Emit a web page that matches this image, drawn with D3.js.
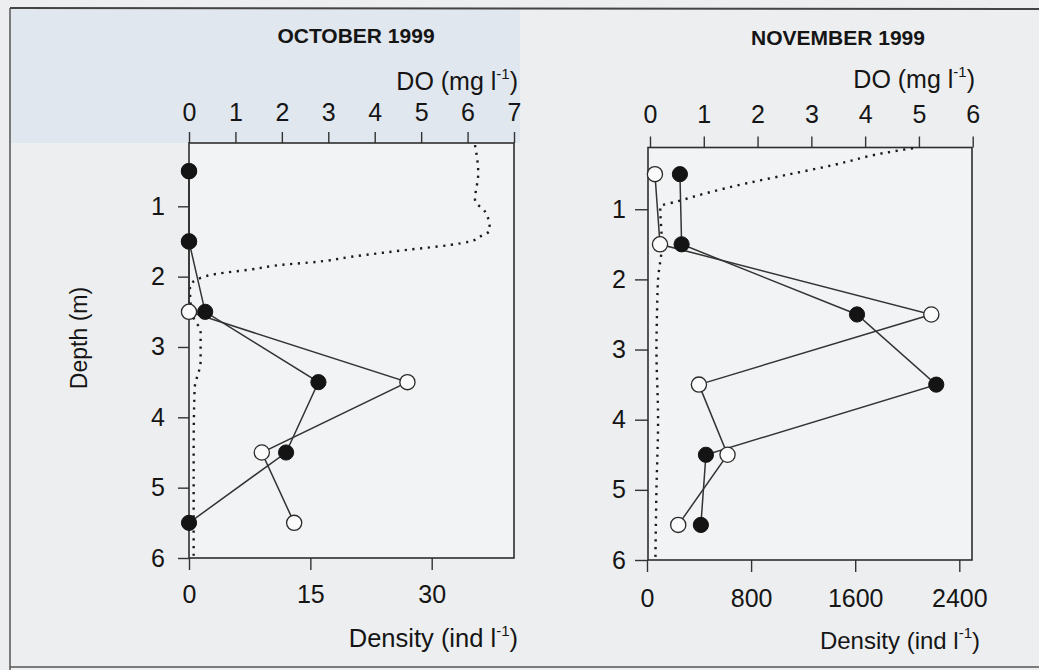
<!DOCTYPE html>
<html><head><meta charset="utf-8">
<script src="https://cdn.jsdelivr.net/npm/d3@7/dist/d3.min.js"></script>
<style>
html,body{margin:0;padding:0;background:#eeeff1;}
svg{display:block;font-family:"Liberation Sans",Arial,Helvetica,sans-serif;}
</style></head>
<body>
<svg id="c" width="1039" height="670"></svg>
<script>
// ---- data ----
const depths = [0.5, 1.5, 2.5, 3.5, 4.5, 5.5];
// October 1999 rotifer density (ind/l)
const octFilled = [0, 0, 2, 16, 12, 0];
const octOpen   = [0, 0, 0, 27, 9, 13];
// October DO profile
const octDoDepth = [0.13,0.53,0.91,1.08,1.19,1.34,1.43,1.5,1.55,1.62,1.66,1.72,1.79,1.83,1.9,1.96,2.02,2.14,2.5,2.8,3.2,3.6,4.5,5.5,6.0];
const octDo      = [6.16,6.23,6.16,6.38,6.45,6.48,6.27,6.05,5.62,4.69,4.18,3.47,2.75,2.03,1.31,0.6,0.24,0.02,0.05,0.25,0.25,0.12,0.1,0.1,0.1];
// November 1999 rotifer density (ind/l)
const novFilled = [253, 266, 1614, 2223, 453, 414];
const novOpen   = [61, 100, 2185, 399, 619, 240];
// November DO profile
const novDoDepth = [0.13,0.2,0.37,0.51,0.63,0.77,0.89,0.96,1.5,2.0,2.5,3.0,4.0,5.0,6.0];
const novDo      = [4.89,4.34,3.41,2.54,1.80,1.05,0.50,0.19,0.22,0.15,0.13,0.12,0.15,0.12,0.1];
// axis ticks
const octDoTicks = [0,1,2,3,4,5,6,7];
const novDoTicks = [0,1,2,3,4,5,6];
const depthTicks = [1,2,3,4,5,6];
const octDensTicks = [0,15,30];
const novDensTicks = [0,800,1600,2400];
const titles = ["OCTOBER 1999", "NOVEMBER 1999"];

const svg = d3.select("#c");
// page background
svg.append("rect").attr("x",0).attr("y",0).attr("width",1039).attr("height",670).attr("fill","#edeef0");
svg.append("rect").attr("x",10).attr("y",9).attr("width",510).attr("height",134).attr("fill","#e1e7ee");
svg.append("line").attr("x1",10).attr("x2",1039).attr("y1",8).attr("y2",9).attr("stroke","#444").attr("stroke-width",2);
svg.append("line").attr("x1",10).attr("x2",10).attr("y1",8).attr("y2",670).attr("stroke","#555").attr("stroke-width",1.5);
svg.append("line").attr("x1",10).attr("x2",1039).attr("y1",667).attr("y2",667).attr("stroke","#555").attr("stroke-width",1.5);

const panels = [
  {title:titles[0], tx:356, ty:43,
   box:{l:189,t:143,r:514,b:558}, depthDom:[0.1,6],
   doScale:d3.scaleLinear().domain([0,7]).range([189,514]), doTicks:octDoTicks,
   densScale:d3.scaleLinear().domain([0,30]).range([189,431.7]), densTicks:octDensTicks,
   filled:octFilled, open:octOpen, doD:octDoDepth, doV:octDo,
   doLab:{x:518,y:90}, densLab:{x:518,y:647,fs:25.5}, depthLabel:true,
   topPad:11, leftTick:11, leftPad:13, botTick:12, botPad:15},
  {title:titles[1], tx:838, ty:45,
   box:{l:648,t:147.5,r:972,b:560}, depthDom:[0.12,6],
   doScale:d3.scaleLinear().domain([0,6]).range([650,972.7]), doTicks:novDoTicks,
   densScale:d3.scaleLinear().domain([0,2400]).range([647,959.3]), densTicks:novDensTicks,
   filled:novFilled, open:novOpen, doD:novDoDepth, doV:novDo,
   doLab:{x:975,y:88}, densLab:{x:980,y:649,fs:24}, depthLabel:false,
   topPad:14, leftTick:13, leftPad:9, botTick:12, botPad:17}
];

panels.forEach(p => {
  const g = svg.append("g");
  const b = p.box;
  const y = d3.scaleLinear().domain(p.depthDom).range([b.t, b.b]);
  g.append("rect").attr("x",b.l).attr("y",b.t).attr("width",b.r-b.l).attr("height",b.b-b.t)
    .attr("fill","#f2f3f4").attr("stroke","none");

  // title
  g.append("text").attr("x",p.tx).attr("y",p.ty).attr("text-anchor","middle")
    .attr("font-size",21).attr("font-weight","bold").attr("fill","#151515").text(p.title);

  const styleAxis = sel => {
    sel.attr("font-size",null).attr("font-family",null);
    sel.select(".domain").remove();
    sel.selectAll(".tick line").attr("stroke","#333").attr("stroke-width",1.4);
    sel.selectAll(".tick text").attr("fill","#151515").style("font-size","25px")
       .style("font-family","'Liberation Sans',Arial,sans-serif");
  };
  // top DO axis
  g.append("g").attr("transform",`translate(0,${b.t})`)
    .call(d3.axisTop(p.doScale).tickValues(p.doTicks).tickFormat(d3.format("d")).tickSize(11).tickPadding(p.topPad))
    .call(styleAxis);
  // left depth axis
  g.append("g").attr("transform",`translate(${b.l},0)`)
    .call(d3.axisLeft(y).tickValues(depthTicks).tickFormat(d3.format("d")).tickSize(p.leftTick).tickPadding(p.leftPad))
    .call(styleAxis);
  // bottom density axis
  g.append("g").attr("transform",`translate(0,${b.b})`)
    .call(d3.axisBottom(p.densScale).tickValues(p.densTicks).tickFormat(d3.format("d")).tickSize(p.botTick).tickPadding(p.botPad))
    .call(styleAxis);

  // box
  g.append("rect").attr("x",b.l).attr("y",b.t).attr("width",b.r-b.l).attr("height",b.b-b.t)
    .attr("fill","none").attr("stroke","#2e2e2e").attr("stroke-width",1.6);

  // axis labels
  const doT = g.append("text").attr("x",p.doLab.x).attr("y",p.doLab.y).attr("text-anchor","end")
    .style("font-size","25px").attr("fill","#151515");
  doT.append("tspan").text("DO (mg l");
  doT.append("tspan").style("font-size","15px").attr("dy",-11).text("-1");
  doT.append("tspan").attr("dy",11).text(")");
  const dT = g.append("text").attr("x",p.densLab.x).attr("y",p.densLab.y).attr("text-anchor","end")
    .style("font-size",p.densLab.fs+"px").attr("fill","#151515");
  dT.append("tspan").text("Density (ind l");
  dT.append("tspan").style("font-size","15px").attr("dy",-11).text("-1");
  dT.append("tspan").attr("dy",11).text(")");
  if (p.depthLabel) {
    g.append("text").attr("transform","translate(87,338) rotate(-90)").attr("text-anchor","middle")
      .style("font-size","23px").attr("fill","#151515").text("Depth (m)");
  }

  // DO dotted profile
  const doPts = p.doD.map((d,i)=>[p.doScale(p.doV[i]), y(d)]);
  g.append("path").attr("d", d3.line().curve(d3.curveMonotoneY)(doPts))
    .attr("fill","none").attr("stroke","#1a1a1a").attr("stroke-width",2.4)
    .attr("stroke-dasharray","2.2,5.5");

  // density lines
  const line = d3.line();
  const openPts = depths.map((d,i)=>[p.densScale(p.open[i]), y(d)]);
  const filledPts = depths.map((d,i)=>[p.densScale(p.filled[i]), y(d)]);
  g.append("path").attr("d", line(openPts)).attr("fill","none").attr("stroke","#333").attr("stroke-width",1.5);
  g.append("path").attr("d", line(filledPts)).attr("fill","none").attr("stroke","#333").attr("stroke-width",1.5);

  // circles: open first, filled on top
  g.selectAll(null).data(openPts).enter().append("circle")
    .attr("cx",d=>d[0]).attr("cy",d=>d[1]).attr("r",7.6)
    .attr("fill","#fbfbfb").attr("stroke","#2a2a2a").attr("stroke-width",1.3);
  g.selectAll(null).data(filledPts).enter().append("circle")
    .attr("cx",d=>d[0]).attr("cy",d=>d[1]).attr("r",7.6)
    .attr("fill","#141414").attr("stroke","#141414").attr("stroke-width",1);
});
</script>
</body></html>
